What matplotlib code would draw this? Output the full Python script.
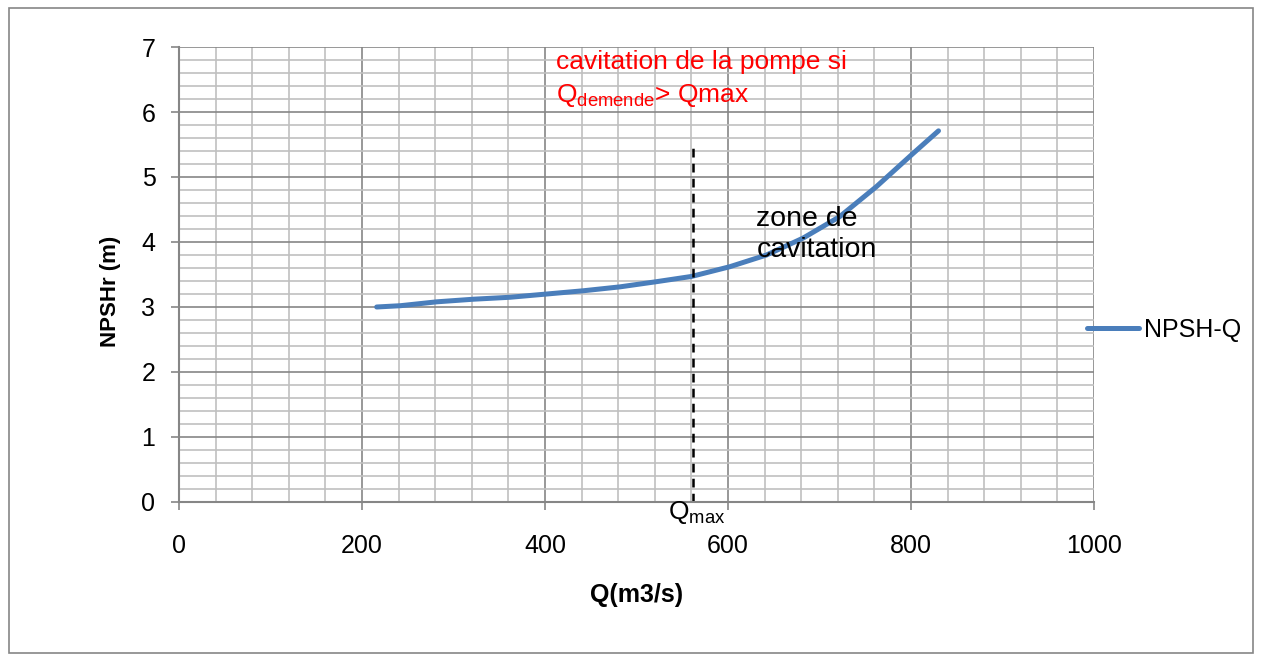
"""NPSHr curve of the pump versus flow rate."""
import numpy as np
import matplotlib.pyplot as plt
from matplotlib.patches import Rectangle

plt.rcParams['font.family'] = ['Liberation Sans', 'DejaVu Sans']

# Values
q_values = [216, 242, 282, 322, 362, 402, 442, 482, 522, 560, 602, 642, 682, 722, 762, 802, 830]
npsh_values = [3.0, 3.02, 3.08, 3.12, 3.15, 3.2, 3.25, 3.31, 3.39, 3.47, 3.62, 3.8, 4.06, 4.39, 4.85, 5.36, 5.71]
q_max = 562
q_max_top = 5.5

fig = plt.figure(figsize=(12.61, 6.62), dpi=100)
ax = fig.add_axes([0.142, 0.2417, 0.7256, 0.6873])

ax.set_xlim(0, 1000)
ax.set_ylim(0, 7)
ax.set_xticks(np.arange(0, 1001, 200))
ax.set_xticks(np.arange(0, 1001, 40), minor=True)
ax.set_yticks(np.arange(0, 8, 1))
ax.set_yticks(np.arange(0, 7.01, 0.2), minor=True)
ax.grid(which='minor', color='#c0c0c0', linewidth=1.2)
ax.grid(which='major', color='#868686', linewidth=1.2)
ax.set_axisbelow(True)
for side in ['top', 'right']:
    ax.spines[side].set_visible(False)
for side in ['left', 'bottom']:
    ax.spines[side].set_color('#868686')
    ax.spines[side].set_linewidth(1.5)
ax.tick_params(which='major', length=6, width=1.2, color='#868686', labelsize=18)
ax.tick_params(axis='x', pad=17)
ax.tick_params(axis='y', pad=11)
ax.tick_params(which='minor', length=0)

ax.plot(q_values, npsh_values, color='#4a7ebb', linewidth=3.6,
        solid_capstyle='round', solid_joinstyle='round', label='NPSH-Q')
ax.plot([q_max, q_max], [0, q_max_top], color='black', linestyle=(0, (3.5, 2.5)), linewidth=1.8)

ax.set_xlabel('Q(m3/s)', fontsize=18, fontweight='bold', labelpad=18)
ax.set_ylabel('NPSHr (m)', fontsize=16, fontweight='bold')
ax.yaxis.set_label_coords(-0.064, 0.464)

ax.text(412, 6.77, 'cavitation de la pompe si', color='red', fontsize=19, va='center')
ax.text(412, 6.26, r'Q$_{\mathregular{demende}}$> Qmax', color='red', fontsize=19, va='center')
ax.text(631, 4.11, 'zone de\ncavitation', color='black', fontsize=20.5, va='center',
        linespacing=1.25)
ax.text(q_max + 4, 0.05, r'Q$_{\mathregular{max}}$', color='black', fontsize=19,
        ha='center', va='top')

ax.legend(loc='center left', bbox_to_anchor=(0.992, 0.379), frameon=False,
          borderpad=0, borderaxespad=0,
          fontsize=18, handlelength=2.1, handletextpad=0.2)

fig.patches.append(Rectangle((0.007, 0.013), 0.987, 0.975, transform=fig.transFigure,
                             fill=False, edgecolor='#868686', linewidth=1.2))

fig.savefig('out.png', dpi=100)
